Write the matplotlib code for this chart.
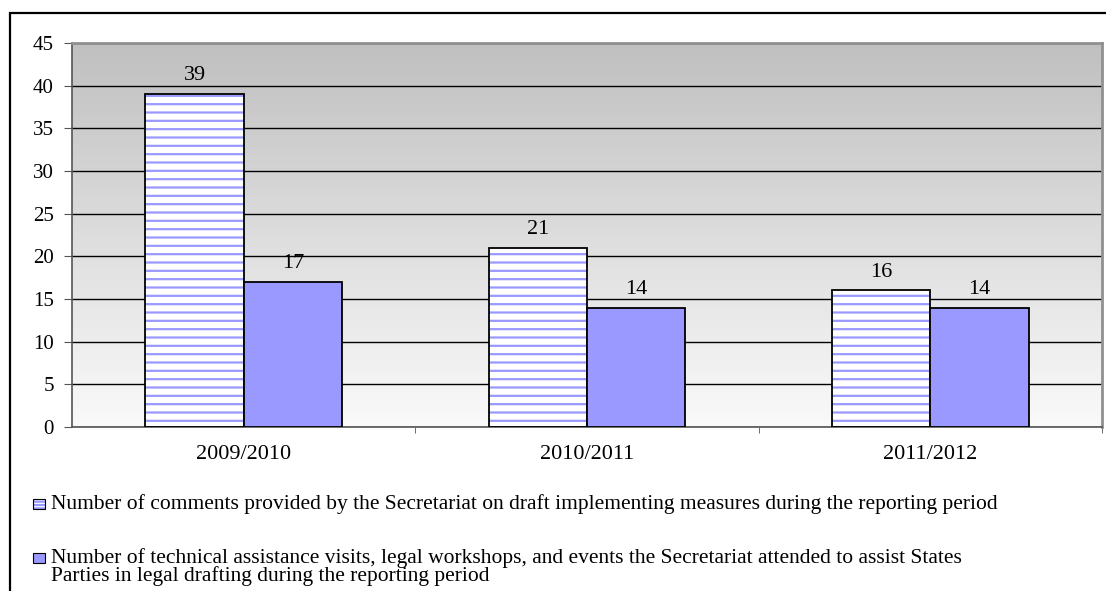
import numpy as np
import matplotlib
matplotlib.use("Agg")
import matplotlib.pyplot as plt
from matplotlib.patches import Rectangle

plt.rcParams['font.family'] = ['Liberation Serif', 'DejaVu Serif']
plt.rcParams['hatch.linewidth'] = 1.6

categories = ['2009/2010', '2010/2011', '2011/2012']
comments = [39, 21, 16]
visits = [17, 14, 14]
label1 = 'Number of comments provided by the Secretariat on draft implementing measures during the reporting period'
label2 = ['Number of technical assistance visits, legal workshops, and events the Secretariat attended to assist States',
          'Parties in legal drafting during the reporting period']

blue = '#9999ff'
fs = 16
W, H = 1106, 591
fig = plt.figure(figsize=(W/100, H/100), dpi=100)
ax = fig.add_axes([72/W, 1-427/H, 1030/W, 384/H])

# gradient background
grad = np.linspace(0, 1, 256).reshape(-1, 1)
ax.imshow(grad, extent=[-0.5, 2.5, 0, 45], aspect='auto', origin='lower',
          cmap=matplotlib.colors.LinearSegmentedColormap.from_list('g', ['#fafafa', '#c0c0c0']),
          zorder=0)

x = np.arange(len(categories))
bw = 0.286
ax.bar(x-bw/2, comments, bw, facecolor='white', edgecolor=blue, hatch='--', linewidth=0, zorder=2)
ax.bar(x-bw/2, comments, bw, facecolor='none', edgecolor='black', linewidth=1.3, zorder=3)
ax.bar(x+bw/2, visits, bw, facecolor=blue, edgecolor='black', linewidth=1.3, zorder=3)

for xi, v in zip(x-bw/2, comments):
    ax.annotate(str(v), (xi, v), xytext=(0, 10), textcoords='offset points',
                ha='center', va='baseline', fontsize=fs)
for xi, v in zip(x+bw/2, visits):
    ax.annotate(str(v), (xi, v), xytext=(0, 10), textcoords='offset points',
                ha='center', va='baseline', fontsize=fs)

ax.set_xlim(-0.5, 2.5)
ax.set_ylim(0, 45)
ax.set_yticks(range(0, 46, 5))
ax.set_xticks(x)
ax.set_xticklabels(categories, fontsize=fs)
ax.set_xticks([0.5, 1.5, 2.5], minor=True)
ax.tick_params(axis='x', which='major', length=0, pad=13)
ax.tick_params(axis='x', which='minor', length=4, color='#555555')
ax.tick_params(axis='y', labelsize=15, length=6, color='#555555', pad=7)
ax.yaxis.grid(True, color='black', linewidth=1)
ax.set_axisbelow(True)
for gl in ax.get_ygridlines():
    gl.set_zorder(1)
for s in ['top', 'right']:
    ax.spines[s].set_color('#909090')
    ax.spines[s].set_linewidth(2)
for s in ['left', 'bottom']:
    ax.spines[s].set_color('#555555')
    ax.spines[s].set_linewidth(1.2)

# outer frame
fig.add_artist(Rectangle((10/W, -0.1), 1.2, 1-13/H+0.1, transform=fig.transFigure,
                         facecolor='none', edgecolor='black', linewidth=1.6))

# legend
lfs = 15.5
fig.add_artist(Rectangle((33/W, 1-509/H), 12/W, 10/H, transform=fig.transFigure,
                         facecolor='white', edgecolor=blue, hatch='-----', linewidth=0))
fig.add_artist(Rectangle((33/W, 1-509/H), 12/W, 10/H, transform=fig.transFigure,
                         facecolor='none', edgecolor='black', linewidth=0.8))
fig.text(51/W, 1-509/H, label1, fontsize=lfs, va='baseline', ha='left')
fig.add_artist(Rectangle((33/W, 1-563/H), 12/W, 10/H, transform=fig.transFigure,
                         facecolor=blue, edgecolor='black', linewidth=0.8))
fig.text(51/W, 1-563/H, label2[0], fontsize=lfs, va='baseline', ha='left')
fig.text(51/W, 1-581/H, label2[1], fontsize=lfs, va='baseline', ha='left')

fig.savefig('out.png', dpi=100)
